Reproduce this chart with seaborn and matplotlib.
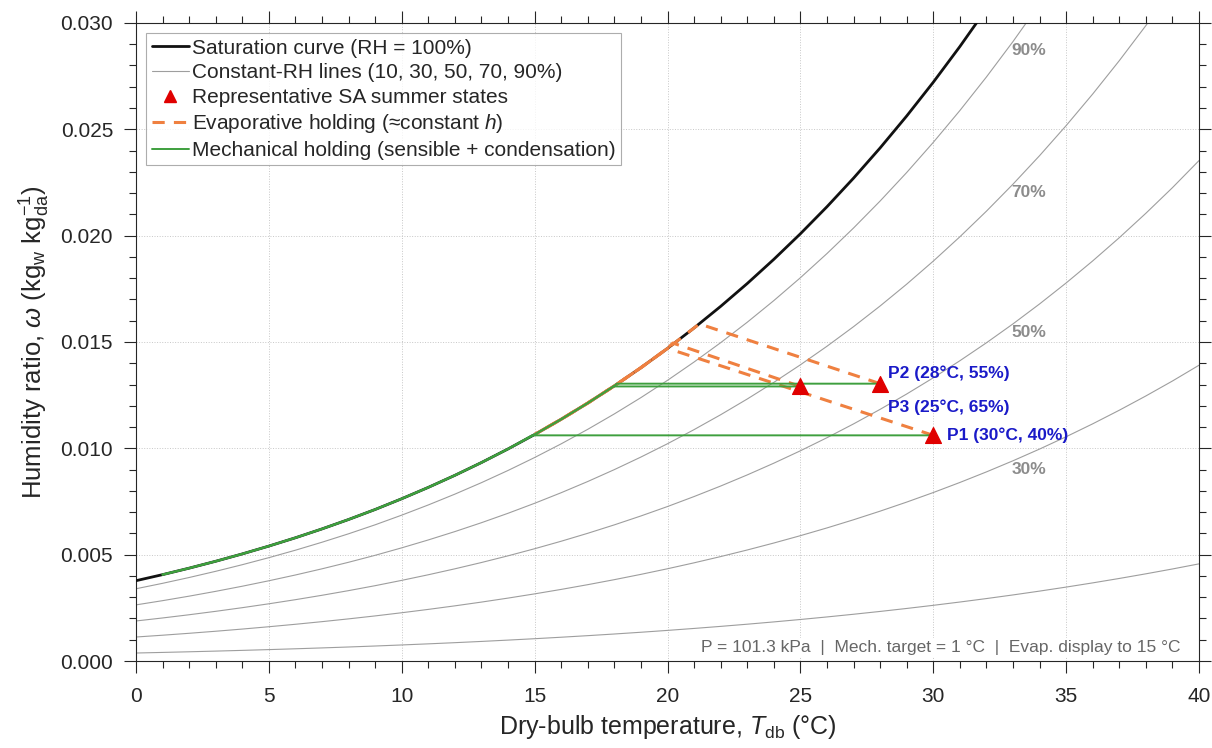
import matplotlib
matplotlib.use("Agg")
import matplotlib.pyplot as plt
from matplotlib.lines import Line2D
from matplotlib.ticker import MultipleLocator, FormatStrFormatter
import numpy as np
import pandas as pd
import seaborn as sns

# dry-bulb grid (degC) and saturation vapour pressure (kPa)
T_grid = list(range(0, 41))
p_sat = [0.6113, 0.6571, 0.7060, 0.7581, 0.8135, 0.8725, 0.9350, 1.0016, 1.0722, 1.1472,
         1.2276, 1.3124, 1.4022, 1.4974, 1.5983, 1.7051, 1.8180, 1.9375, 2.0639, 2.1974,
         2.3385, 2.4878, 2.6448, 2.8104, 2.9851, 3.1692, 3.3631, 3.5673, 3.7822, 4.0083,
         4.2461, 4.4962, 4.7589, 5.0349, 5.3247, 5.6291, 5.9479, 6.2823, 6.6328, 6.9990,
         7.3851]
P_atm = 101.3
rh_levels = [10, 30, 50, 70, 90]
rh_labels = ["30%", "50%", "70%", "90%"]
rh_label_T = 33.6

# representative states
state_names = ["P1 (30°C, 40%)", "P2 (28°C, 55%)", "P3 (25°C, 65%)"]
state_T = [30.0, 28.0, 25.0]
state_w = [0.01061, 0.01304, 0.01291]
dew_T = [14.9, 18.1, 18.0]          # mechanical: cool to dew point
wb_T = [20.0, 21.2, 20.2]           # evaporative: constant h to saturation
wb_w = [0.01470, 0.01585, 0.01495]
label_dx = [0.5, 0.3, 3.3]
label_dw = [0.0, 0.0005, -0.0010]
mech_target = 1
evap_end = 15

ps = np.array(p_sat)
T = np.array(T_grid, dtype=float)
w_sat = 0.622 * ps / (P_atm - ps)
rows = []
for rh in rh_levels:
    pv = rh / 100 * ps
    for t, w in zip(T, 0.622 * pv / (P_atm - pv)):
        rows.append((rh, t, w))
rh_df = pd.DataFrame(rows, columns=["rh", "T", "w"])

sns.set_theme(style="ticks")
plt.rcParams["font.family"] = ["Liberation Sans", "DejaVu Sans"]
plt.rcParams["mathtext.fontset"] = "custom"
plt.rcParams["mathtext.rm"] = "Liberation Sans"
plt.rcParams["mathtext.it"] = "Liberation Sans:italic"

fig = plt.figure(figsize=(12.12, 7.48), dpi=100)
ax = fig.add_axes([0.1122, 0.1163, 0.8771, 0.853])

orange = "#EF8040"
green = "#3E9F3E"

sns.lineplot(data=rh_df, x="T", y="w", units="rh", estimator=None, color="0.62",
             lw=0.8, legend=False, ax=ax, zorder=2)
ax.plot(T, w_sat, color="#111111", lw=2.0, zorder=3)

for i in range(3):
    # evaporative path
    seg = (T <= wb_T[i]) & (T >= evap_end)
    xs = [state_T[i], wb_T[i]] + list(T[seg][::-1])
    ys = [state_w[i], wb_w[i]] + list(w_sat[seg][::-1])
    ax.plot(xs, ys, color=orange, lw=2.2, ls=(0, (4, 3)), zorder=4)
for i in range(3):
    # mechanical path
    seg = (T <= dew_T[i]) & (T >= mech_target)
    xs = [state_T[i], dew_T[i]] + list(T[seg][::-1])
    ys = [state_w[i], state_w[i]] + list(w_sat[seg][::-1])
    ax.plot(xs, ys, color=green, lw=1.4, zorder=5)

sns.scatterplot(x=state_T, y=state_w, marker="^", s=130, color="#E00000",
                edgecolor="#E00000", ax=ax, zorder=6, legend=False)
for i in range(3):
    ax.text(state_T[i] + label_dx[i], state_w[i] + label_dw[i], state_names[i],
            color="#1A1AC8", fontsize=12.5, fontweight="bold", va="center", ha="left", zorder=7)

for rh, lab in zip(rh_levels[1:], rh_labels):
    pv = rh / 100 * ps[33]
    w = 0.622 * pv / (P_atm - pv)
    ax.text(rh_label_T, w - 0.0004, lab, color="0.55", fontsize=12.5, fontweight="bold",
            ha="center", va="center", zorder=7)

ax.text(39.3, 0.0003, "P = 101.3 kPa  |  Mech. target = 1 °C  |  Evap. display to 15 °C",
        ha="right", va="bottom", fontsize=12.5, color="0.4", zorder=8,
        bbox=dict(facecolor="white", edgecolor="none", pad=1.5))

ax.set_xlim(0, 40)
ax.set_ylim(0, 0.030)
ax.xaxis.set_major_locator(MultipleLocator(5))
ax.xaxis.set_minor_locator(MultipleLocator(1))
ax.yaxis.set_major_locator(MultipleLocator(0.005))
ax.yaxis.set_minor_locator(MultipleLocator(0.001))
ax.yaxis.set_major_formatter(FormatStrFormatter("%.3f"))
ax.tick_params(which="both", direction="out", top=True, right=True, colors="0.15",
               labelsize=15, width=0.8)
ax.tick_params(which="major", length=8.5)
ax.tick_params(axis="x", which="major", pad=10)
ax.tick_params(axis="y", which="major", pad=8)
ax.tick_params(which="minor", length=5)
for s in ax.spines.values():
    s.set_color("0.15")
    s.set_linewidth(0.8)
ax.grid(True, which="major", ls=":", color="0.78", lw=0.7)
ax.set_axisbelow(True)

ax.set_xlabel("Dry-bulb temperature, $T_\\mathrm{db}$ (°C)", fontsize=18, color="0.15",
              labelpad=5)
ax.set_ylabel("Humidity ratio, $\\omega$ (kg$_\\mathrm{w}$ kg$_\\mathrm{da}^{-1}$)",
              fontsize=18.5, color="0.15", labelpad=6)

handles = [
    Line2D([], [], color="#111111", lw=2.0),
    Line2D([], [], color="0.62", lw=0.8),
    Line2D([], [], color="#E00000", marker="^", ls="none", markersize=9),
    Line2D([], [], color=orange, lw=2.2, ls=(0, (4, 3))),
    Line2D([], [], color=green, lw=1.4),
]
labels = ["Saturation curve (RH = 100%)", "Constant-RH lines (10, 30, 50, 70, 90%)",
          "Representative SA summer states", "Evaporative holding (≈constant $h$)",
          "Mechanical holding (sensible + condensation)"]
leg = ax.legend(handles, labels, loc="upper left", fontsize=15, frameon=True,
                fancybox=False, edgecolor="0.6", handlelength=1.8, handletextpad=0.15,
                borderpad=0.25, labelspacing=0.27, borderaxespad=0.5)
leg.get_frame().set_linewidth(0.8)

fig.savefig("out.png", dpi=100)
